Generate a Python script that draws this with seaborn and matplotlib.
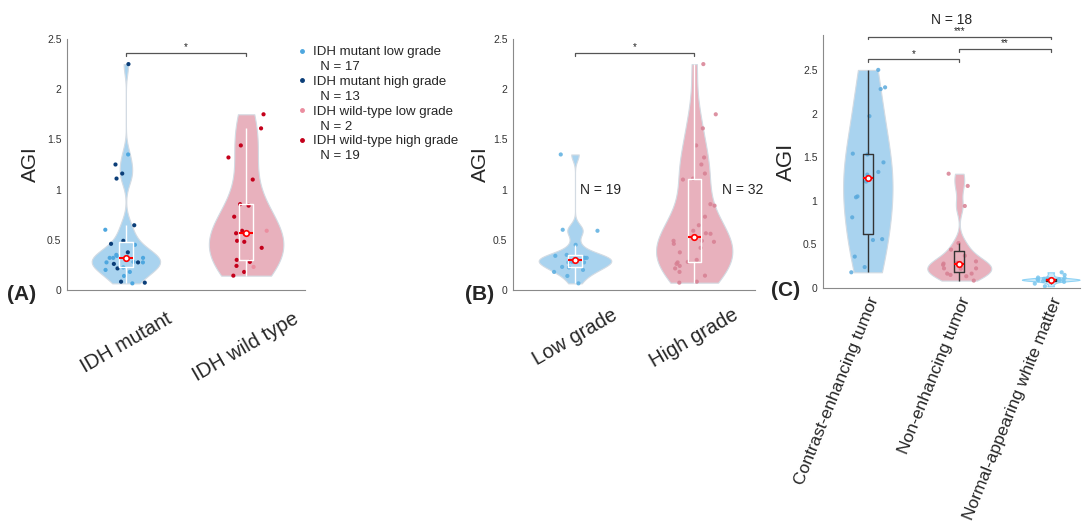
import numpy as np
import pandas as pd
import seaborn as sns
import matplotlib.pyplot as plt
from matplotlib.lines import Line2D

# ---- data (AGI values) ----
mut_low = [1.35, 0.45, 0.34, 0.30, 0.275, 0.32, 0.32, 0.32, 0.275, 0.225,
           0.20, 0.14, 0.066, 0.35, 0.28, 0.18, 0.60]
mut_high = [2.25, 1.25, 1.16, 1.11, 0.645, 0.49, 0.46, 0.375, 0.275,
            0.215, 0.26, 0.083, 0.073]
wt_low = [0.59, 0.23]
wt_high = [1.75, 1.61, 1.44, 1.32, 1.10, 0.84, 0.855, 0.73, 0.59, 0.56,
           0.565, 0.49, 0.48, 0.42, 0.28, 0.30, 0.24, 0.18, 0.143]

idh_labels = ["IDH mutant", "IDH wild type"]
grade_labels = ["Low grade", "High grade"]
region_labels = ["Contrast-enhancing tumor", "Non-enhancing tumor",
                 "Normal-appearing white matter"]

ce_tumor = [2.5, 2.30, 2.28, 1.97, 1.54, 1.53, 1.44, 1.33, 1.30, 1.22,
            1.05, 1.04, 0.81, 0.56, 0.55, 0.36, 0.24, 0.18]
ne_tumor = [1.31, 1.17, 0.94, 0.515, 0.44, 0.37, 0.305, 0.29, 0.28, 0.265,
            0.225, 0.225, 0.22, 0.165, 0.165, 0.15, 0.135, 0.085]
nawm = [0.02, 0.05, 0.07, 0.08, 0.084, 0.088, 0.09, 0.092, 0.095, 0.095,
        0.10, 0.10, 0.105, 0.11, 0.115, 0.12, 0.15, 0.18]

subtype_names = ["IDH mutant low grade", "IDH mutant high grade",
                 "IDH wild-type low grade", "IDH wild-type high grade"]

BLUE_FILL = "#a9d3ef"
PINK_FILL = "#e8b1bd"
CYAN_FILL = "#cbeafa"
EDGE = "#d3dbe3"
sub_colors = dict(zip(subtype_names, ["#4ea7df", "#0b3e78", "#eb8d9f", "#c4001b"]))


def long_df(groups, names, sub=None):
    rows = []
    for i, (g, n) in enumerate(zip(groups, names)):
        for v in g:
            rows.append({"group": n, "AGI": v, "sub": sub[i] if sub else n})
    return pd.DataFrame(rows)


def matlab_bw(v):
    # ksdensity-style bandwidth expressed as a factor of the sample std
    v = np.asarray(v, dtype=float)
    sig = np.median(np.abs(v - np.median(v))) / 0.6745
    return sig * (4 / (3 * len(v))) ** 0.2 / v.std(ddof=1)


def violins(ax, groups, names, fills, edges, widths):
    for g, n, f, e, w in zip(groups, names, fills, edges, widths):
        d = pd.DataFrame({"group": n, "AGI": g})
        sns.violinplot(data=d, x="group", y="AGI", order=names, ax=ax,
                       inner=None, cut=0, density_norm="width", width=w,
                       bw_method=matlab_bw(g), color=f, linecolor=e,
                       linewidth=0.8, saturation=1)


def boxes(ax, df, names, col):
    sns.boxplot(data=df, x="group", y="AGI", order=names, ax=ax, width=0.11,
                fill=False, color=col, linecolor=col, linewidth=1,
                showcaps=False, showfliers=False, whis=1.5,
                medianprops={"color": "red", "linewidth": 1.5}, zorder=4)
    meds = df.groupby("group")["AGI"].median().reindex(names).values
    ax.plot(range(len(names)), meds, "o", ms=4, mfc="white", mec="red",
            mew=1.2, zorder=6)


def bracket(ax, x0, x1, y, txt):
    h = 0.03
    ax.plot([x0, x0, x1, x1], [y - h, y, y, y - h], color="#555555", lw=0.9,
            clip_on=False)
    ax.text((x0 + x1) / 2, y + 0.005, txt, ha="center", va="bottom",
            fontsize=7, color="#222222")


def style(ax, ylim, ylabel_size, pad):
    sns.despine(ax=ax)
    for s in ["left", "bottom"]:
        ax.spines[s].set_color("#8a8a8a")
        ax.spines[s].set_linewidth(0.8)
    ax.set_ylim(*ylim)
    ax.set_yticks([0, 0.5, 1, 1.5, 2, 2.5])
    ax.set_yticklabels(["0", "0.5", "1", "1.5", "2", "2.5"])
    ax.tick_params(axis="y", direction="in", length=2, color="#8a8a8a",
                   labelsize=7.5, labelcolor="#333333", pad=4)
    ax.tick_params(axis="x", direction="in", length=2, color="#8a8a8a")
    ax.set_xlabel("")
    ax.set_ylabel("AGI", fontsize=ylabel_size, labelpad=pad)


sns.set_theme(style="white")
plt.rcParams["font.family"] = ["Liberation Sans", "DejaVu Sans"]
np.random.seed(3)

fig = plt.figure(figsize=(10.83, 5.27), dpi=100)
axA = fig.add_axes([67 / 1083, 1 - 290 / 527, 238 / 1083, 251 / 527])
axB = fig.add_axes([513 / 1083, 1 - 290 / 527, 242 / 1083, 251 / 527])
axC = fig.add_axes([823 / 1083, 1 - 288 / 527, 257 / 1083, 253 / 527])

# ---- (A) IDH status ----
dfA = long_df([mut_low, mut_high, wt_low, wt_high],
              [idh_labels[0], idh_labels[0], idh_labels[1], idh_labels[1]],
              subtype_names)
violins(axA, [mut_low + mut_high, wt_low + wt_high], idh_labels,
        [BLUE_FILL, PINK_FILL], [EDGE, EDGE], [0.57, 0.62])
sns.stripplot(data=dfA, x="group", y="AGI", hue="sub", order=idh_labels,
              palette=sub_colors, jitter=0.18, size=3, linewidth=0, ax=axA,
              legend=False, zorder=3)
boxes(axA, dfA, idh_labels, "white")
bracket(axA, 0, 1, 2.36, "*")
style(axA, (0, 2.5), 15, 5)
axA.set_xlim(-0.49, 1.49)
axA.set_xticks([0, 1])
axA.set_xticklabels(idh_labels, rotation=30, fontsize=14.5, ha="center")
axA.tick_params(axis="x", pad=14)

handles, labels = [], []
for name, n in zip(subtype_names, [17, 13, 2, 19]):
    handles.append(Line2D([], [], marker="o", ls="none", ms=2.5,
                          color=sub_colors[name]))
    labels.append(name)
    handles.append(Line2D([], [], ls="none"))
    labels.append(f"  N = {n}")
axA.legend(handles, labels, loc="upper left", frameon=False, fontsize=9.5,
           bbox_to_anchor=(298 / 1083, 1 - 46 / 527),
           bbox_transform=fig.transFigure, handlelength=0.6,
           handletextpad=0.5, labelspacing=0.2, borderpad=0, borderaxespad=0)

# ---- (B) grade ----
low_grade = mut_low + wt_low
high_grade = mut_high + wt_high
dfB = long_df([low_grade, high_grade], grade_labels)
violins(axB, [low_grade, high_grade], grade_labels,
        [BLUE_FILL, PINK_FILL], [EDGE, EDGE], [0.61, 0.64])
sns.stripplot(data=dfB, x="group", y="AGI", hue="group", order=grade_labels,
              palette=["#5aaee0", "#d77f92"], jitter=0.2, size=3,
              linewidth=0, alpha=0.85, ax=axB, legend=False, zorder=3)
boxes(axB, dfB, grade_labels, "white")
bracket(axB, 0, 1, 2.36, "*")
style(axB, (0, 2.5), 15, 2)
axB.set_xlim(-0.52, 1.51)
axB.set_xticks([0, 1])
axB.set_xticklabels(grade_labels, rotation=30, fontsize=14.5, ha="center")
axB.tick_params(axis="x", pad=11)
axB.text(0.04, 1.0, f"N = {len(low_grade)}", fontsize=10, va="center")
axB.text(1.23, 1.0, f"N = {len(high_grade)}", fontsize=10, va="center")

# ---- (C) tumor region ----
dfC = long_df([ce_tumor, ne_tumor, nawm], region_labels)
violins(axC, [ce_tumor, ne_tumor, nawm], region_labels,
        [BLUE_FILL, PINK_FILL, CYAN_FILL], [EDGE, EDGE, "#8fd3f5"],
        [0.54, 0.7, 0.63])
sns.stripplot(data=dfC, x="group", y="AGI", hue="group", order=region_labels,
              palette=["#5aa9dc", "#d77f92", "#79c6ee"], jitter=0.2, size=3,
              linewidth=0, alpha=0.85, ax=axC, legend=False, zorder=3)
boxes(axC, dfC, region_labels, "#333333")
bracket(axC, 0, 1, 2.62, "*")
bracket(axC, 1, 2, 2.74, "**")
bracket(axC, 0, 2, 2.88, "***")
style(axC, (0, 2.9), 16, 4)
axC.set_xlim(-0.49, 2.32)
axC.set_xticks([0, 1, 2])
axC.set_xticklabels(region_labels, rotation=68, fontsize=12.5, ha="right",
                    va="top", rotation_mode="anchor")
axC.tick_params(axis="x", pad=5)
axC.set_title(f"N = {len(ce_tumor)}", fontsize=10, pad=8)

for txt, x, y in [("(A)", 22, 295), ("(B)", 480, 295), ("(C)", 786, 291)]:
    fig.text(x / 1083, 1 - y / 527, txt, fontsize=15, fontweight="bold",
             ha="center", va="center")

fig.savefig("out.png", dpi=100)
